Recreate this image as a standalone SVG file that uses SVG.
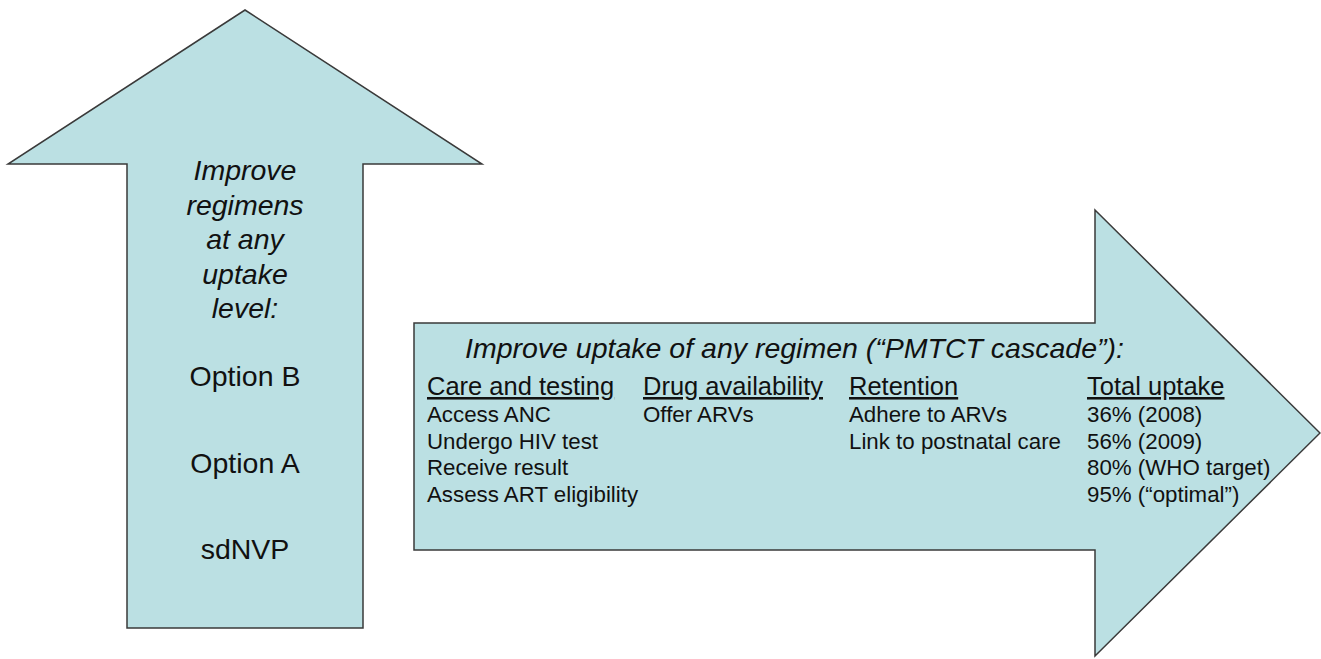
<svg xmlns="http://www.w3.org/2000/svg" width="1321" height="659" viewBox="0 0 1321 659">
<style>
.shape{fill:#BBE0E3;stroke:#3a3a3a;stroke-width:1.5;stroke-linejoin:miter}
text{font-family:"Liberation Sans",Arial,sans-serif;fill:#111}
.big{font-size:28.5px}
.it{font-style:italic}
.hd{font-size:25.5px;text-decoration:underline}
.bd{font-size:22.3px}
.mid{text-anchor:middle}
</style>
<rect width="1321" height="659" fill="#ffffff"/>
<g id="regimens-arrow">
<polygon class="shape" points="245,10 482,164 363,164 363,628 127,628 127,164 8,164"/>
<text class="big it mid" x="245" y="180">Improve</text>
<text class="big it mid" x="245" y="214.5">regimens</text>
<text class="big it mid" x="245" y="249">at any</text>
<text class="big it mid" x="245" y="283.5">uptake</text>
<text class="big it mid" x="245" y="318">level:</text>
<text class="big mid" x="245" y="386">Option B</text>
<text class="big mid" x="245" y="473">Option A</text>
<text class="big mid" x="245" y="559">sdNVP</text>
</g>
<g id="uptake-arrow">
<polygon class="shape" points="414,323 1095,323 1095,210 1320,433 1095,656 1095,550 414,550"/>
<text class="big it" x="465" y="358">Improve uptake of any regimen (“PMTCT cascade”):</text>
</g>
<g id="col-care">
<text class="hd" x="427" y="395">Care and testing</text>
<text class="bd" x="427" y="422">Access ANC</text>
<text class="bd" x="427" y="448.5">Undergo HIV test</text>
<text class="bd" x="427" y="475">Receive result</text>
<text class="bd" x="427" y="501.5">Assess ART eligibility</text>
</g>
<g id="col-drug">
<text class="hd" x="643" y="395">Drug availability</text>
<text class="bd" x="643" y="422">Offer ARVs</text>
</g>
<g id="col-retention">
<text class="hd" x="849" y="395">Retention</text>
<text class="bd" x="849" y="422">Adhere to ARVs</text>
<text class="bd" x="849" y="448.5">Link to postnatal care</text>
</g>
<g id="col-total">
<text class="hd" x="1087" y="395">Total uptake</text>
<text class="bd" x="1087" y="422">36% (2008)</text>
<text class="bd" x="1087" y="448.5">56% (2009)</text>
<text class="bd" x="1087" y="475">80% (WHO target)</text>
<text class="bd" x="1087" y="501.5">95% (“optimal”)</text>
</g>
<g id="connectors"></g>
</svg>
